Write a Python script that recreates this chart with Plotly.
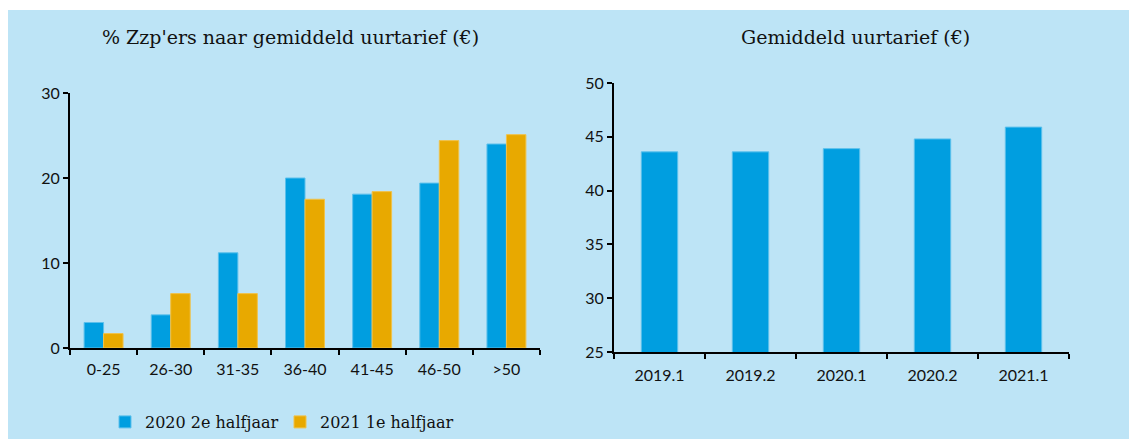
import plotly.graph_objects as go

# Data
categories = ["0-25", "26-30", "31-35", "36-40", "41-45", "46-50", ">50"]
series_2020_h2 = [3.0, 3.9, 11.2, 20.0, 18.1, 19.4, 24.0]
series_2021_h1 = [1.7, 6.4, 6.4, 17.5, 18.4, 24.4, 25.1]
periods = ["2019.1", "2019.2", "2020.1", "2020.2", "2021.1"]
avg_rate = [43.6, 43.6, 43.9, 44.8, 45.9]

BLUE = "#009EE0"
ORANGE = "#E8A900"
BG = "#BDE4F6"
W, H = 1129, 439

fig = go.Figure()
fig.add_trace(go.Bar(x=categories, y=series_2020_h2, name="2020 2e halfjaar",
                     marker=dict(color=BLUE, line=dict(color="#5CC0EC", width=1)),
                     xaxis="x", yaxis="y"))
fig.add_trace(go.Bar(x=categories, y=series_2021_h1, name="2021 1e halfjaar",
                     marker=dict(color=ORANGE, line=dict(color="#F0C24A", width=1)),
                     xaxis="x", yaxis="y"))
fig.add_trace(go.Bar(x=periods, y=avg_rate, name="Gemiddeld uurtarief",
                     marker=dict(color=BLUE, line=dict(color="#5CC0EC", width=1)),
                     showlegend=False, xaxis="x2", yaxis="y2", width=0.4))

tickfont = dict(family="Lato", size=16, color="#111111")
axis_common = dict(showline=True, linecolor="black", linewidth=2, ticks="outside",
                   tickcolor="black", tickwidth=2, ticklen=5, showgrid=False,
                   zeroline=False, tickfont=tickfont, automargin=False)

fig.update_layout(
    width=W, height=H,
    margin=dict(l=0, r=0, t=0, b=0, autoexpand=False),
    paper_bgcolor=BG, plot_bgcolor=BG,
    barmode="group", bargap=0.42, bargroupgap=0.0,
    xaxis=dict(domain=[70 / W, 540 / W], anchor="y", tickson="boundaries",
               ticklabelstandoff=6, **axis_common),
    yaxis=dict(domain=[(H - 348) / H, (H - 93) / H], anchor="x", range=[0, 30], dtick=10, **axis_common),
    xaxis2=dict(domain=[614 / W, 1069 / W], anchor="y2", tickson="boundaries",
                ticklabelstandoff=8, **axis_common),
    yaxis2=dict(domain=[(H - 352) / H, (H - 83) / H], anchor="x2", range=[25, 50], dtick=5, **axis_common),
    legend=dict(orientation="h", x=105 / W, y=(H - 405) / H, xanchor="left", yanchor="top",
                font=dict(family="DejaVu Serif", size=16, color="#111111"),
                bgcolor="rgba(0,0,0,0)", itemwidth=30, traceorder="normal",
                entrywidth=130, entrywidthmode="pixels"),
    annotations=[
        dict(text="% Zzp'ers naar gemiddeld uurtarief (€)", x=290 / W, y=(H - 37) / H,
             xref="paper", yref="paper", showarrow=False, xanchor="center", yanchor="middle",
             font=dict(family="DejaVu Serif", size=19, color="#111111")),
        dict(text="Gemiddeld uurtarief (€)", x=855 / W, y=(H - 37) / H,
             xref="paper", yref="paper", showarrow=False, xanchor="center", yanchor="middle",
             font=dict(family="DejaVu Serif", size=19, color="#111111")),
    ],
    shapes=[
        dict(type="rect", xref="paper", yref="paper", x0=0, x1=1, y0=(H - 10) / H, y1=1,
             fillcolor="white", line=dict(width=0), layer="below"),
        dict(type="rect", xref="paper", yref="paper", x0=0, x1=8 / W, y0=0, y1=1,
             fillcolor="white", line=dict(width=0), layer="below"),
    ],
)

fig.write_html("out.html", config={"displayModeBar": False},
               post_script="document.body.style.margin='0';document.body.style.overflow='hidden';")
